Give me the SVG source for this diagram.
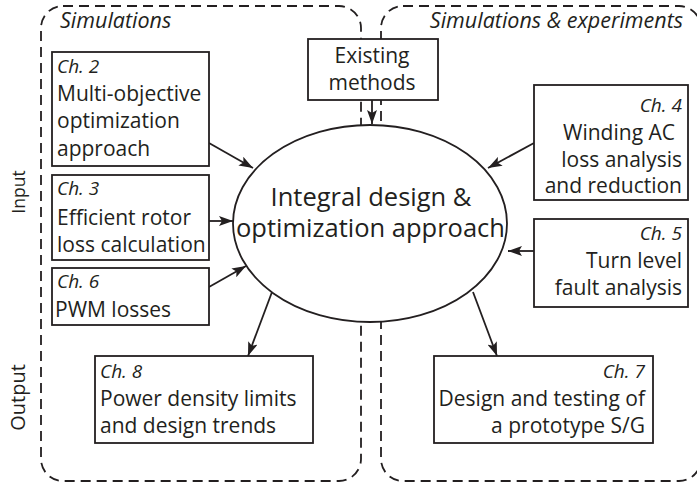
<svg xmlns="http://www.w3.org/2000/svg" width="697" height="483" viewBox="0 0 697 483">
<defs>
<style>
.frame{fill:none;stroke:#231f20;stroke-width:1.8;stroke-dasharray:10 6}
.box{fill:#fff;stroke:#231f20;stroke-width:1.8}
.conn{stroke:#231f20;stroke-width:1.8;fill:none;marker-end:url(#ah)}
text{font-family:"Open Sans","Noto Sans",sans-serif;fill:#231f20}
.t{font-size:21px}
.ch{font-size:19px;font-style:italic}
.hd{font-size:21.5px;font-style:italic}
.big{font-size:25.5px;text-anchor:middle}
.r{text-anchor:end}
.m{text-anchor:middle}
</style>
<marker id="ah" viewBox="0 0 14 10" refX="14" refY="5" markerWidth="14" markerHeight="10" orient="auto" markerUnits="userSpaceOnUse">
<path d="M0,0 L14,5 L0,10 L3,5 Z" fill="#231f20"/>
</marker>
</defs>
<rect width="697" height="483" fill="#fff"/>
<g id="frames">
<rect class="frame" x="41" y="6" width="320" height="475" rx="22"/>
<rect class="frame" x="381" y="6" width="320" height="475" rx="22"/>
<text class="hd" x="60" y="28">Simulations</text>
<text class="hd r" x="683" y="28">Simulations &amp; experiments</text>
<text style="font-size:17.5px" text-anchor="middle" transform="translate(25,192) rotate(-90)">Input</text>
<text style="font-size:20px" text-anchor="middle" transform="translate(25,397.5) rotate(-90)">Output</text>
</g>
<g id="connectors">
<line class="conn" x1="209" y1="143" x2="253" y2="168"/>
<line class="conn" x1="209" y1="221" x2="233" y2="221"/>
<line class="conn" x1="209" y1="287" x2="246" y2="266"/>
<line class="conn" x1="272" y1="292" x2="248" y2="356"/>
<line class="conn" x1="473" y1="292" x2="497" y2="356"/>
<line class="conn" x1="534" y1="143" x2="488" y2="168"/>
<line class="conn" x1="534" y1="251" x2="508" y2="251"/>
<line class="conn" x1="372" y1="100" x2="372" y2="124"/>
</g>
<g id="center">
<ellipse class="box" cx="370" cy="223.5" rx="137" ry="98.5"/>
<text class="big" x="371" y="206">Integral design &amp;</text>
<text class="big" x="370.5" y="237">optimization approach</text>
</g>
<g id="existing">
<rect class="box" x="308" y="39" width="130" height="61"/>
<text class="t m" x="372" y="63">Existing</text>
<text class="t m" x="372" y="90">methods</text>
</g>
<g id="ch2">
<rect class="box" x="52" y="52" width="157" height="114"/>
<text class="ch" x="57" y="73">Ch. 2</text>
<text class="t" x="57" y="101">Multi-objective</text>
<text class="t" x="57" y="128">optimization</text>
<text class="t" x="57" y="156">approach</text>
</g>
<g id="ch3">
<rect class="box" x="52" y="175" width="157" height="85"/>
<text class="ch" x="57" y="195">Ch. 3</text>
<text class="t" x="57" y="225">Efficient rotor</text>
<text class="t" x="57" y="252">loss calculation</text>
</g>
<g id="ch6">
<rect class="box" x="52" y="268" width="157" height="57"/>
<text class="ch" x="57" y="288">Ch. 6</text>
<text class="t" x="55" y="317">PWM losses</text>
</g>
<g id="ch8">
<rect class="box" x="95" y="356" width="218" height="87"/>
<text class="ch" x="100" y="378">Ch. 8</text>
<text class="t" x="100" y="406">Power density limits</text>
<text class="t" x="100" y="433">and design trends</text>
</g>
<g id="ch4">
<rect class="box" x="534" y="85" width="154" height="115"/>
<text class="ch r" x="682" y="112">Ch. 4</text>
<text class="t r" x="675" y="140">Winding AC</text>
<text class="t r" x="682" y="167">loss analysis</text>
<text class="t r" x="682" y="193">and reduction</text>
</g>
<g id="ch5">
<rect class="box" x="534" y="219" width="154" height="88"/>
<text class="ch r" x="682" y="240">Ch. 5</text>
<text class="t r" x="682" y="268">Turn level</text>
<text class="t r" x="682" y="295">fault analysis</text>
</g>
<g id="ch7">
<rect class="box" x="434" y="356" width="219" height="87"/>
<text class="ch r" x="645" y="378">Ch. 7</text>
<text class="t r" x="645" y="406">Design and testing of</text>
<text class="t r" x="645" y="433">a prototype S/G</text>
</g>
</svg>
